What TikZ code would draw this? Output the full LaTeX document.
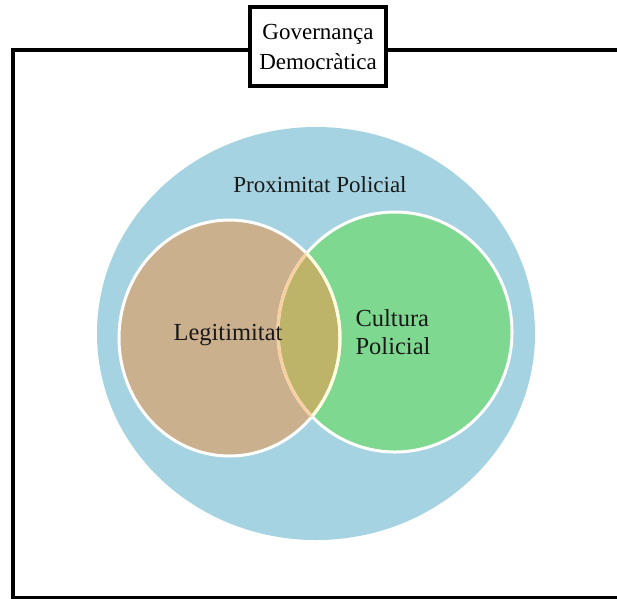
\documentclass[tikz,border=0pt]{standalone}
\usepackage{fontspec}
\setmainfont{Liberation Serif}
\definecolor{proxblue}{HTML}{A5D3E1}
\definecolor{legtan}{HTML}{CBB08E}
\definecolor{culgreen}{HTML}{7ED88F}
\definecolor{botholive}{HTML}{BDB46A}
\definecolor{peach}{HTML}{F8CFA0}
\tikzset{>=latex}
\tikzset{frame/.style = {line width = 4pt},
	titlebox/.style = {draw, line width = 4pt, fill = white, align = center, inner sep = 0pt,
		minimum width = 136pt, minimum height = 79pt, font = \fontsize{23}{30}\selectfont},
	venntext/.style = {text = black!90, font = \fontsize{24.5}{28}\selectfont},
	ring/.style = {line width = 3pt}}
\newcommand\legcircle{(229.5, 338) ellipse [x radius = 110.5, y radius = 118]}
\newcommand\culcircle{(395, 332) ellipse [x radius = 117, y radius = 120]}

\begin{document}
\begin{tikzpicture}[x = 1pt, y = -1pt]
	\clip (0, 0) rectangle (617, 598);
	\fill[white] (0, 0) rectangle (617, 598);
	% outer frame
	\coordinate (tl) at (13, 50);
	\coordinate (bl) at (13, 598);
	\coordinate (br) at (640, 598);
	\coordinate (tr) at (640, 50);
	\draw[frame] (tr) -- (tl) -- (bl) -- (br) -- cycle;
	\node[titlebox] (gov) at (318, 46.5) {Governança\\Democràtica};
	% venn
	\fill[proxblue] (316, 333.5) ellipse [x radius = 219, y radius = 206.5];
	\fill[legtan] \legcircle;
	\fill[culgreen] \culcircle;
	\begin{scope}
		\clip \legcircle;
		\fill[botholive] \culcircle;
	\end{scope}
	\draw[ring, white] \legcircle;
	\draw[ring, white] \culcircle;
	\begin{scope}
		\clip \legcircle;
		\draw[ring, peach] \culcircle;
	\end{scope}
	\begin{scope}
		\clip \culcircle;
		\draw[ring, white!88!yellow] \legcircle;
	\end{scope}
	\node[venntext, font = \fontsize{23}{28}\selectfont] (prox) at (320, 185) {Proximitat Policial};
	\node[venntext] (leg) at (228, 335) {Legitimitat};
	\node[venntext, align = left] (cul) at (393, 332) {Cultura\\Policial};
\end{tikzpicture}
\end{document}
